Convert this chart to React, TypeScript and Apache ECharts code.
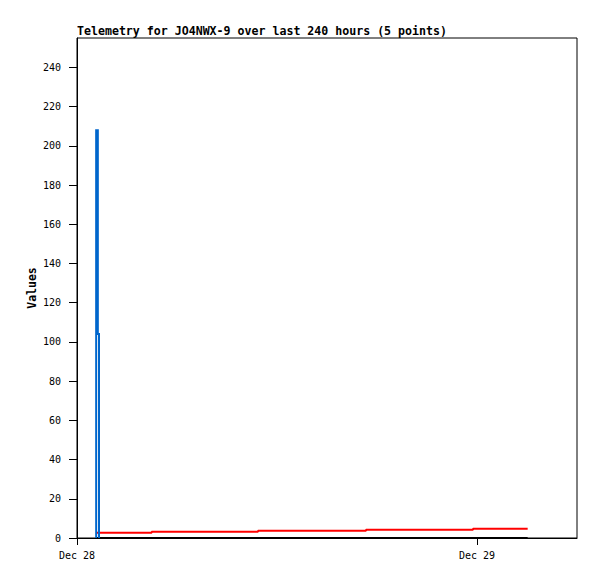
import React, { useEffect, useRef } from "react";
import * as echarts from "echarts";

// hours since Dec 28 00:00
const xTickValues = [0, 24];
const xTickLabels = ["Dec 28", "Dec 29"];
const yTickValues = [0, 20, 40, 60, 80, 100, 120, 140, 160, 180, 200, 220, 240];

const blueTimes = [1.15, 1.15, 1.25, 1.25, 1.32, 1.32];
const blueValues = [0, 208, 208, 104, 104, 0];

const redTimes = [1.14, 4.48, 10.86, 17.34, 23.76, 27.04];
const redValues = [2.7, 3.2, 3.7, 4.2, 4.7, 4.7];

const blackTimes = [1.14, 27.04];
const blackValues = [0, 0];

const TITLE = "Telemetry for JO4NWX-9 over last 240 hours (5 points)";
const MONO = "'DejaVu Sans Mono', 'Liberation Mono', monospace";

export default function App() {
  const ref = useRef<HTMLDivElement>(null);
  useEffect(() => {
    if (!ref.current) return;
    const chart = echarts.init(ref.current, undefined, { renderer: "svg" });
    const zip = (a: number[], b: number[]) => a.map((t, i) => [t, b[i]]);
    chart.setOption({
      animation: false,
      backgroundColor: "#ffffff",
      title: {
        text: TITLE,
        left: 77,
        top: 25,
        padding: 0,
        textStyle: { fontFamily: MONO, fontSize: 11.6, fontWeight: "bold", color: "#000" },
      },
      grid: {
        left: 77,
        top: 38,
        right: 20,
        bottom: 41,
        show: true,
        borderColor: "#000",
        borderWidth: 1,
        backgroundColor: "transparent",
      },
      xAxis: {
        type: "value",
        min: 0,
        max: 30,
        splitLine: { show: false },
        axisLine: { lineStyle: { color: "#000", width: 1 } },
        axisTick: { show: true, length: 7, lineStyle: { color: "#000" }, customValues: xTickValues },
        axisLabel: {
          customValues: xTickValues,
          formatter: (v: number) => {
            const i = xTickValues.indexOf(v);
            return i >= 0 ? xTickLabels[i] : "";
          },
          fontFamily: MONO,
          fontSize: 10,
          color: "#000",
          margin: 12,
        },
      },
      yAxis: {
        type: "value",
        min: 0,
        max: 255,
        name: "Values",
        nameLocation: "middle",
        nameGap: 39,
        nameMoveOverlap: false,
        nameTextStyle: { fontFamily: MONO, fontSize: 11.5, fontWeight: "bold", color: "#000" },
        splitLine: { show: false },
        axisLine: { show: true, lineStyle: { color: "#000", width: 1 } },
        axisTick: { show: true, length: 8, lineStyle: { color: "#000" }, customValues: yTickValues },
        axisLabel: {
          customValues: yTickValues,
          fontFamily: MONO,
          fontSize: 10,
          color: "#000",
          margin: 16,
        },
      },
      series: [
        {
          type: "line",
          data: zip(blackTimes, blackValues),
          showSymbol: false,
          lineStyle: { color: "#000", width: 2 },
          z: 3,
        },
        {
          type: "line",
          data: zip(redTimes, redValues),
          step: "end",
          showSymbol: false,
          lineStyle: { color: "#ff0000", width: 2 },
          z: 4,
        },
        {
          type: "line",
          data: zip(blueTimes, blueValues),
          showSymbol: false,
          lineStyle: { color: "#0066cc", width: 2, cap: "butt", join: "miter" },
          z: 5,
        },
      ],
    });
    return () => chart.dispose();
  }, []);
  return (
    <div
      ref={ref}
      style={{ position: "fixed", left: 0, top: 0, width: 597, height: 579, background: "#fff" }}
    />
  );
}
